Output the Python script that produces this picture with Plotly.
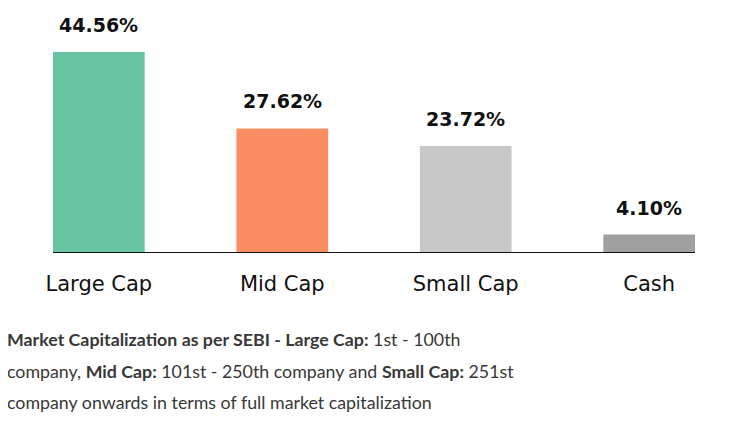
import plotly.graph_objects as go

categories = ["Large Cap", "Mid Cap", "Small Cap", "Cash"]
values = [44.56, 27.62, 23.72, 4.10]
value_labels = ["44.56%", "27.62%", "23.72%", "4.10%"]
colors = ["#66C5A0", "#FC8D62", "#C8C8C8", "#A0A0A0"]
footnote_lines = [
    "<b>Market Capitalization as per SEBI - Large Cap:</b> 1st - 100th",
    "company, <b>Mid Cap:</b> 101st - 250th company and <b>Small Cap:</b> 251st",
    "company onwards in terms of full market capitalization",
]

# page body has an 8px margin, so the figure is sized to the visible area
W, H = 729, 423
ml, mr, mt, mb = 45, 42, 0, 178
plot_h = H - mt - mb

fig = go.Figure()
fig.add_trace(go.Bar(
    x=list(range(len(categories))), y=values,
    marker=dict(color=colors, line=dict(width=0)),
    hoverinfo="skip",
))

for i, (v, t) in enumerate(zip(values, value_labels)):
    fig.add_annotation(
        x=i, y=v, xref="x", yref="y", text="<b>%s</b>" % t,
        showarrow=False, yanchor="bottom", yshift=14,
        font=dict(family="DejaVu Sans", size=19, color="#111111"),
    )

line_mids = [331, 362.5, 394]
for mid, line in zip(line_mids, footnote_lines):
    fig.add_annotation(
        x=(-3 - ml) / (W - ml - mr), y=1 - (mid - mt) / plot_h,
        xref="paper", yref="paper", xanchor="left", yanchor="middle",
        text=line, showarrow=False, align="left",
        font=dict(family="Lato", size=17.8, color="#383838"),
    )

fig.update_layout(
    width=W, height=H,
    margin=dict(l=ml, r=mr, t=mt, b=mb, pad=0),
    paper_bgcolor="white", plot_bgcolor="white",
    bargap=0.5, showlegend=False,
    xaxis=dict(
        range=[-0.25, 3.25], tickmode="array",
        tickvals=list(range(len(categories))), ticktext=categories,
        showgrid=False, zeroline=False, showline=False, ticks="",
        ticklabelstandoff=16,
        tickfont=dict(family="DejaVu Sans", size=21, color="#111111"),
        fixedrange=True,
    ),
    yaxis=dict(
        range=[0, 54.31], visible=False, showgrid=False, fixedrange=True,
    ),
)
fig.add_shape(type="line", xref="paper", yref="y", x0=0, x1=1, y0=0, y1=0,
              line=dict(color="#111111", width=2))

fig.write_html("out.html")
